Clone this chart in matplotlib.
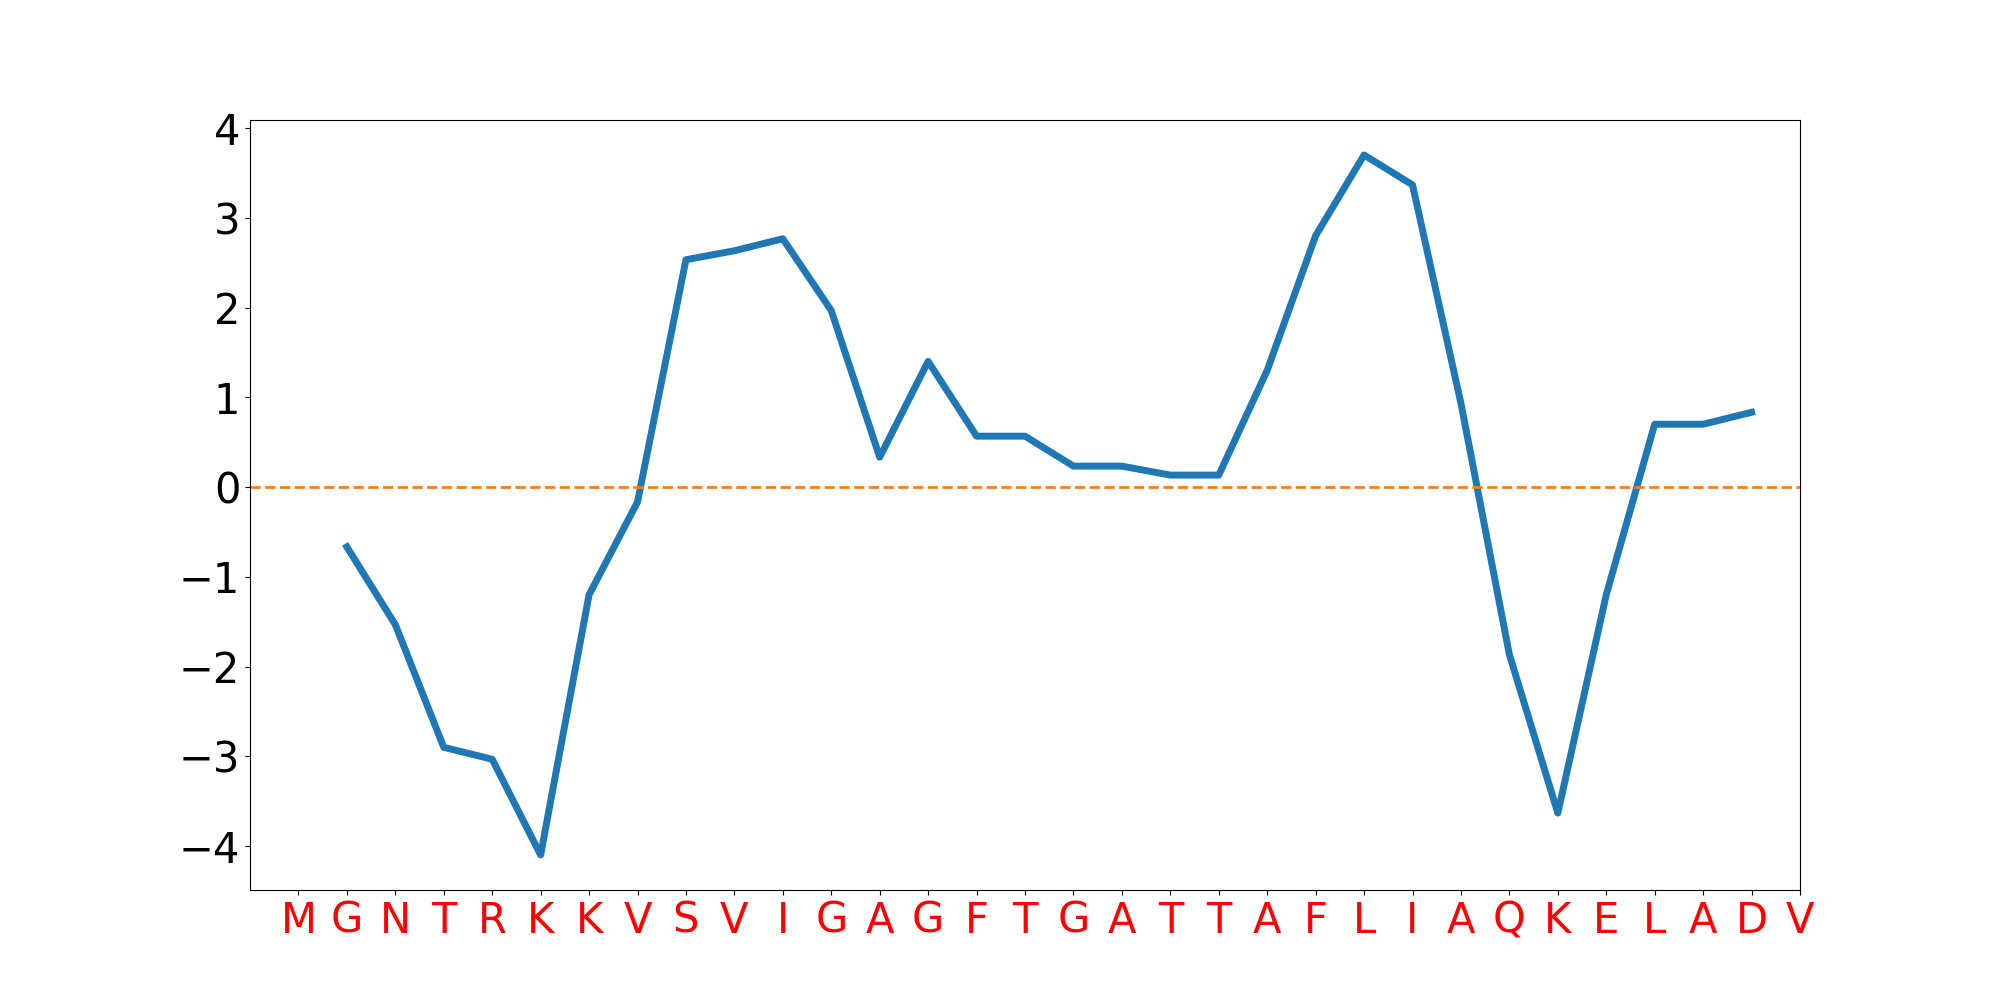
import matplotlib
matplotlib.use("Agg")
import matplotlib.pyplot as plt

# protein sequence (one residue per tick)
sequence = list("MGNTRKKVSVIGAGFTGATTAFLIAQKELADV")

# window-averaged hydropathy, positions 1..30
positions = list(range(1, 31))
hydropathy = [
    -0.667, -1.533, -2.900, -3.033, -4.100, -1.200, -0.167, 2.533, 2.633, 2.767,
    1.967, 0.333, 1.400, 0.567, 0.567, 0.233, 0.233, 0.133, 0.133, 1.300,
    2.800, 3.700, 3.367, 0.933, -1.867, -3.633, -1.200, 0.700, 0.700, 0.833,
]

fig, ax = plt.subplots(figsize=(20, 10), dpi=100)
ax.plot(positions, hydropathy, color="#1f77b4", linewidth=5)
ax.axhline(0, color="#ff7f0e", linestyle="--", linewidth=2)

ax.set_xticks(range(len(sequence)))
ax.set_xticklabels(sequence, color="red", fontsize=30)
ax.tick_params(axis="y", labelsize=30)
ax.set_xlim(-1, len(sequence) - 1)

fig.savefig("out.png", dpi=100)
